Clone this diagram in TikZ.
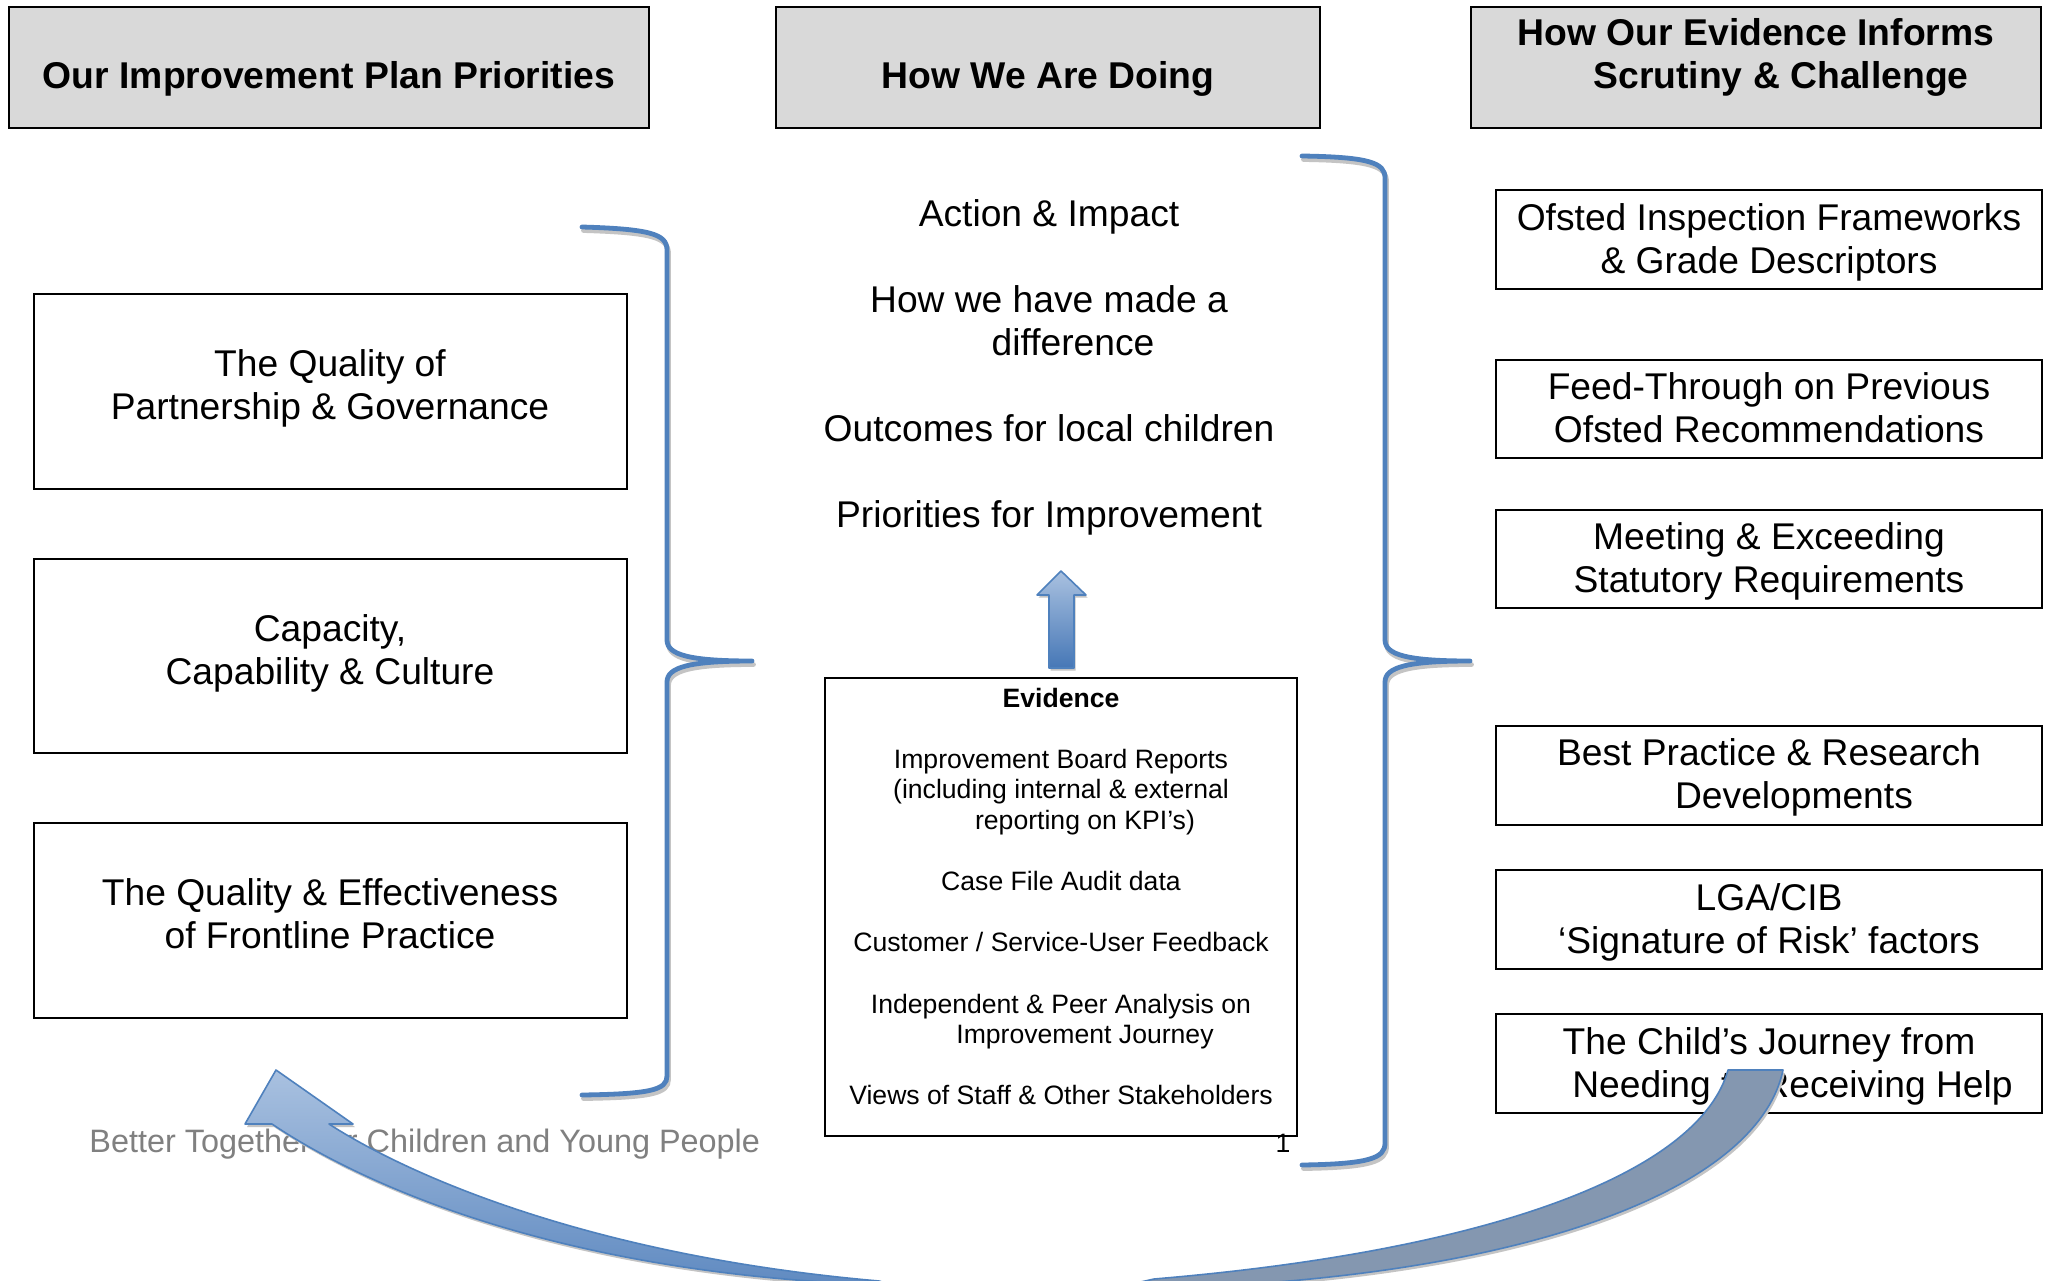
\documentclass[tikz,border=0pt]{standalone}
\usepackage{fontspec}
\setmainfont{Liberation Sans}
\definecolor{hdrgray}{HTML}{D9D9D9}
\definecolor{bracebl}{HTML}{4F81BD}
\definecolor{arrlight}{HTML}{A9C1E0}
\definecolor{arrdark}{HTML}{4677B6}
\definecolor{backbl}{HTML}{8497B0}
\definecolor{footgray}{HTML}{808080}
\definecolor{shad}{HTML}{C4C4C4}
\begin{document}
\begin{tikzpicture}[x=0.5pt,y=-0.5pt,
  hdrbox/.style={draw=black,line width=1pt,fill=hdrgray,inner sep=0pt},
  plainbox/.style={draw=black,line width=1pt,fill=white,inner sep=0pt},
  hdrtxt/.style={font=\fontsize{18.65pt}{21.5pt}\selectfont\bfseries,align=center,inner sep=0pt},
  bodytxt/.style={font=\fontsize{18.6pt}{21.5pt}\selectfont,align=center,inner sep=0pt},
  evtxt/.style={font=\fontsize{13.3pt}{15.3pt}\selectfont,align=center,inner sep=0pt},
  footer/.style={font=\fontsize{16.2pt}{18pt}\selectfont,text=footgray,inner sep=0pt},
  bracepath/.style={draw=bracebl,line width=2.4pt,line cap=round,line join=round},
  braceshade/.style={draw=shad,line width=2.4pt,line cap=round,line join=round},
  blockarrow/.style={draw=bracebl,line width=0.8pt,line join=round},
]
\useasboundingbox (0,0) rectangle (2051,1280);
\fill[white] (0,0) rectangle (2051,1280);

% ---------- headers ----------
\node[hdrbox,minimum width=320pt,minimum height=60.5pt] (h1) at (329,67.5) {};
\node[hdrbox,minimum width=272pt,minimum height=60.5pt] (h2) at (1048,67.5) {};
\node[hdrbox,minimum width=285pt,minimum height=60.5pt] (h3) at (1756,67.5) {};
\node[hdrtxt,anchor=base] (h1t) at (329,88) {Our Improvement Plan Priorities};
\node[hdrtxt,anchor=base] (h2t) at (1048,88) {How We Are Doing};
\node[hdrtxt,anchor=north] (h3t) at (1756,17.7) {How Our Evidence Informs\\\hspace*{25pt}Scrutiny \& Challenge};

% ---------- left boxes ----------
\node[plainbox,minimum width=296.5pt,minimum height=97.5pt] (l1) at (330.5,391.5) {};
\node[plainbox,minimum width=296.5pt,minimum height=97pt] (l2) at (330.5,656) {};
\node[plainbox,minimum width=296.5pt,minimum height=97.5pt] (l3) at (330.5,920.5) {};
\node[bodytxt,anchor=north] (l1t) at (330,348.7) {The Quality of\\Partnership \& Governance};
\node[bodytxt,anchor=north] (l2t) at (330,613.7) {Capacity,\\Capability \& Culture};
\node[bodytxt,anchor=north] (l3t) at (330,877.7) {The Quality \& Effectiveness\\of Frontline Practice};

% ---------- middle text ----------
\node[bodytxt,anchor=north] (mid) at (1049,198.7) {Action \& Impact\\[21.5pt]How we have made a\\\hspace*{24pt}difference\\[21.5pt]Outcomes for local children\\[21.5pt]Priorities for Improvement};

% ---------- evidence box ----------
\node[plainbox,minimum width=236pt,minimum height=229pt] (ev) at (1061,907) {};
\node[evtxt,anchor=north] (evt) at (1061,687.5) {\textbf{Evidence}\\[15.3pt]Improvement Board Reports\\(including internal \& external\\\hspace*{24pt}reporting on KPI’s)\\[15.3pt]Case File Audit data\\[15.3pt]Customer / Service-User Feedback\\[15.3pt]Independent \& Peer Analysis on\\\hspace*{24pt}Improvement Journey\\[15.3pt]Views of Staff \& Other Stakeholders};
\node[evtxt,anchor=base] (pg) at (1283,1152) {1};

% ---------- right boxes ----------
\node[plainbox,minimum width=273pt,minimum height=49.5pt] (r1) at (1769,239.5) {};
\node[plainbox,minimum width=273pt,minimum height=49pt] (r2) at (1769,409) {};
\node[plainbox,minimum width=273pt,minimum height=49pt] (r3) at (1769,559) {};
\node[plainbox,minimum width=273pt,minimum height=49.5pt] (r4) at (1769,775.5) {};
\node[plainbox,minimum width=273pt,minimum height=49.5pt] (r5) at (1769,919.5) {};
\node[plainbox,minimum width=273pt,minimum height=49.5pt] (r6) at (1769,1063.5) {};
\node[bodytxt,anchor=north] (r1t) at (1769,202.7) {Ofsted Inspection Frameworks\\\& Grade Descriptors};
\node[bodytxt,anchor=north] (r2t) at (1769,371.7) {Feed-Through on Previous\\Ofsted Recommendations};
\node[bodytxt,anchor=north] (r3t) at (1769,521.7) {Meeting \& Exceeding\\Statutory Requirements};
\node[bodytxt,anchor=north] (r4t) at (1769,737.7) {Best Practice \& Research\\\hspace*{25pt}Developments};
\node[bodytxt,anchor=north] (r5t) at (1769,882.7) {LGA/CIB\\‘Signature of Risk’ factors};
\node[bodytxt,anchor=north] (r6t) at (1769,1026.7) {The Child’s Journey from\\\hspace*{23.5pt}Needing to Receiving Help};

% ---------- footer ----------
\node[footer,anchor=base west] (foot) at (89,1152) {Better Together for Children and Young People};

% ---------- braces ----------
\begin{scope}[shift={(1.5,3.5)}]
\draw[braceshade] (582,227) .. controls (650,229) and (667,234) .. (667,250) -- (667,640)
  .. controls (667,655) and (690,661) .. (752,661)
  .. controls (690,661) and (667,667) .. (667,682) -- (667,1076)
  .. controls (667,1090) and (650,1094) .. (582,1095);
\draw[braceshade] (1302,156) .. controls (1370,157) and (1385,163) .. (1385,178) -- (1385,640)
  .. controls (1385,655) and (1408,661) .. (1470,661)
  .. controls (1408,661) and (1385,667) .. (1385,682) -- (1385,1143)
  .. controls (1385,1158) and (1370,1164) .. (1302,1165);
\end{scope}
\draw[bracepath] (582,227) .. controls (650,229) and (667,234) .. (667,250) -- (667,640)
  .. controls (667,655) and (690,661) .. (752,661)
  .. controls (690,661) and (667,667) .. (667,682) -- (667,1076)
  .. controls (667,1090) and (650,1094) .. (582,1095);
\draw[bracepath] (1302,156) .. controls (1370,157) and (1385,163) .. (1385,178) -- (1385,640)
  .. controls (1385,655) and (1408,661) .. (1470,661)
  .. controls (1408,661) and (1385,667) .. (1385,682) -- (1385,1143)
  .. controls (1385,1158) and (1370,1164) .. (1302,1165);

% ---------- up arrow ----------
\fill[shad,shift={(1.5,2.5)}] (1061,571) -- (1086,595) -- (1074,595) -- (1074,668) -- (1049,668) -- (1049,595) -- (1037,595) -- cycle;
\shade[top color=arrlight,bottom color=arrdark,blockarrow] (1061,571) -- (1086,595) -- (1074,595) -- (1074,668) -- (1049,668) -- (1049,595) -- (1037,595) -- cycle;

% ---------- big curved arrow ----------
\begin{scope}
\clip (0,0) rectangle (2051,1280);
\begin{scope}[shift={(2,3)}]
\fill[shad] (276,1070) -- (353,1124) -- (329,1124) .. controls (400,1170) and (580,1255) .. (879,1281)
  -- (1000,1320) -- (1000,1360) -- (840,1360) -- (840,1283)
  .. controls (520,1265) and (340,1170) .. (272,1124) -- (245,1124) -- cycle;
\fill[shad] (1728,1070) -- (1783,1070) .. controls (1760,1180) and (1560,1265) .. (1235,1285)
  -- (1235,1360) -- (1060,1360) -- (1060,1300) -- (1154,1279)
  .. controls (1500,1250) and (1700,1170) .. (1728,1070) -- cycle;
\end{scope}
\shade[top color=arrlight,bottom color=arrdark,blockarrow]
  (276,1070) -- (353,1124) -- (329,1124) .. controls (400,1170) and (580,1255) .. (879,1281)
  -- (1000,1320) -- (1000,1360) -- (840,1360) -- (840,1283)
  .. controls (520,1265) and (340,1170) .. (272,1124) -- (245,1124) -- cycle;
\filldraw[fill=backbl,blockarrow]
  (1728,1070) -- (1783,1070) .. controls (1760,1180) and (1560,1265) .. (1235,1285)
  -- (1235,1360) -- (1060,1360) -- (1060,1300) -- (1154,1279)
  .. controls (1500,1250) and (1700,1170) .. (1728,1070) -- cycle;
\end{scope}
\end{tikzpicture}
\end{document}
